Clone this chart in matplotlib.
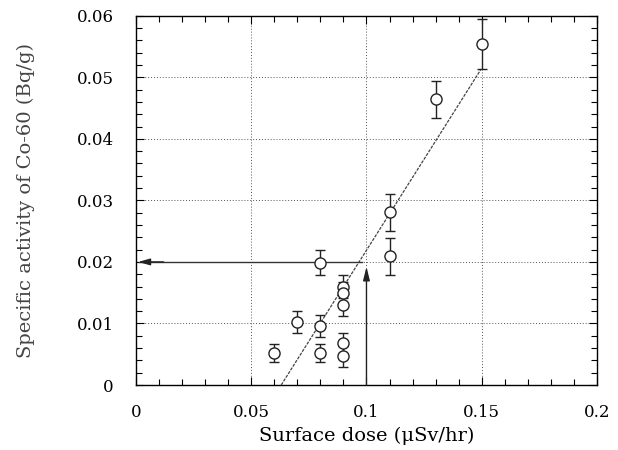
import matplotlib
matplotlib.use("Agg")
import matplotlib.pyplot as plt
from matplotlib.ticker import MultipleLocator

# Data
dose = [0.06, 0.07, 0.08, 0.08, 0.08, 0.09, 0.09, 0.09, 0.09, 0.09, 0.11, 0.11, 0.13, 0.15]
activity = [0.0052, 0.0102, 0.0096, 0.0052, 0.0199, 0.0160, 0.0150, 0.0130, 0.0068, 0.0047,
            0.0281, 0.0209, 0.0464, 0.0554]
err = [0.0015, 0.0018, 0.0018, 0.0015, 0.0020, 0.0018, 0.0018, 0.0018, 0.0017, 0.0017,
       0.0030, 0.0030, 0.0030, 0.0040]
fit_x = [0.0630, 0.1495]
fit_y = [0.0, 0.0512]
ref_dose = 0.1
ref_activity = 0.02
xticks = [0, 0.05, 0.1, 0.15, 0.2]
xtick_labels = ['0', '0.05', '0.1', '0.15', '0.2']
yticks = [0, 0.01, 0.02, 0.03, 0.04, 0.05, 0.06]
ytick_labels = ['0', '0.01', '0.02', '0.03', '0.04', '0.05', '0.06']

plt.rcParams['font.family'] = ['DejaVu Serif']
fig = plt.figure(figsize=(6.18, 4.5), dpi=100)
ax = fig.add_axes([0.220, 0.1444, 0.746, 0.8206])

ax.errorbar(dose, activity, yerr=err, fmt='o', mfc='white', mec='#222222', ecolor='#222222',
            ms=8, mew=1.0, elinewidth=1.0, capsize=3.5, capthick=1.0, zorder=4)
ax.plot(fit_x, fit_y, color='#444444', lw=0.9, ls=(0, (2.5, 1)), zorder=3)

# reference arrows
ax.plot([0.0015, ref_dose - 0.002], [ref_activity, ref_activity], color='#333333', lw=1.0, zorder=3)
ax.annotate('', xy=(0.001, ref_activity), xytext=(0.012, ref_activity),
            arrowprops=dict(arrowstyle='-|>,head_length=0.7,head_width=0.2', color='#222222', lw=1.0,
                            shrinkA=0, shrinkB=0))
ax.annotate('', xy=(ref_dose, 0.0192), xytext=(ref_dose, 0.0),
            arrowprops=dict(arrowstyle='-|>,head_length=0.8,head_width=0.2', color='#222222', lw=1.0,
                            shrinkA=0, shrinkB=0))

ax.set_xlim(0, 0.2)
ax.set_ylim(0, 0.06)
ax.set_xticks(xticks)
ax.set_xticklabels(xtick_labels)
ax.set_yticks(yticks)
ax.set_yticklabels(ytick_labels)
ax.xaxis.set_minor_locator(MultipleLocator(0.01))
ax.yaxis.set_minor_locator(MultipleLocator(0.002))
ax.tick_params(which='both', direction='in', top=True, right=True, labelsize=12, width=0.8)
ax.tick_params(which='major', length=6)
ax.tick_params(which='minor', length=4)
ax.tick_params(axis='x', pad=14)
ax.tick_params(axis='y', pad=16)
ax.grid(True, which='major', ls=(0, (1, 2)), color='#555555', lw=0.7)
for s in ax.spines.values():
    s.set_linewidth(1.0)

ax.set_xlabel('Surface dose (μSv/hr)', fontsize=14, labelpad=4)
ax.set_ylabel('Specific activity of Co-60 (Bq/g)', fontsize=14, color='#444444', labelpad=30)

fig.savefig('out.png', dpi=100)
